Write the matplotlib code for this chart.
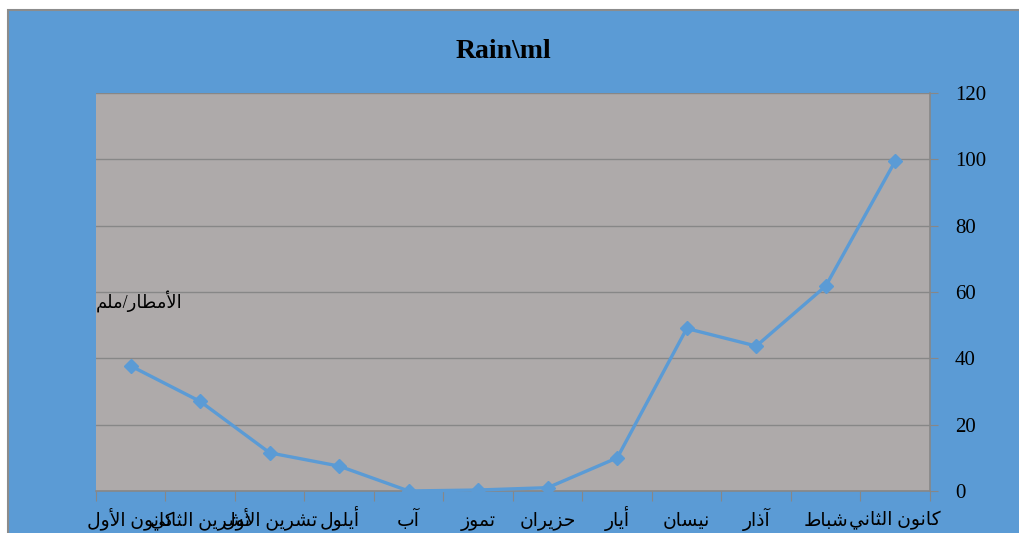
import matplotlib
matplotlib.use("Agg")
import matplotlib.pyplot as plt
from matplotlib.patches import Rectangle

# ---- data (logical order: January .. December) ----
months = ['كانون الثاني', 'شباط', 'آذار', 'نيسان', 'أيار', 'حزيران',
          'تموز', 'آب', 'أيلول', 'تشرين الأول', 'تشرين الثاني', 'كانون الأول']
rain = [99.5, 61.8, 43.7, 49, 10, 1, 0.3, 0, 7.5, 11.5, 27, 37.7]
yticks = [0, 20, 40, 60, 80, 100, 120]
title = 'Rain\\ml'
ylabel = 'الأمطار/ملم'

# ---- minimal Arabic shaping (presentation forms) + visual reversal ----
FORMS = {  # iso, final, initial, medial
    'ا': (0xFE8D, 0xFE8E, None, None), 'آ': (0xFE81, 0xFE82, None, None),
    'أ': (0xFE83, 0xFE84, None, None), 'ذ': (0xFEAB, 0xFEAC, None, None),
    'ر': (0xFEAD, 0xFEAE, None, None), 'ز': (0xFEAF, 0xFEB0, None, None),
    'و': (0xFEED, 0xFEEE, None, None),
    'ب': (0xFE8F, 0xFE90, 0xFE91, 0xFE92), 'ت': (0xFE95, 0xFE96, 0xFE97, 0xFE98),
    'ث': (0xFE99, 0xFE9A, 0xFE9B, 0xFE9C), 'ح': (0xFEA1, 0xFEA2, 0xFEA3, 0xFEA4),
    'س': (0xFEB1, 0xFEB2, 0xFEB3, 0xFEB4), 'ش': (0xFEB5, 0xFEB6, 0xFEB7, 0xFEB8),
    'ط': (0xFEC1, 0xFEC2, 0xFEC3, 0xFEC4), 'ك': (0xFED9, 0xFEDA, 0xFEDB, 0xFEDC),
    'ل': (0xFEDD, 0xFEDE, 0xFEDF, 0xFEE0), 'م': (0xFEE1, 0xFEE2, 0xFEE3, 0xFEE4),
    'ن': (0xFEE5, 0xFEE6, 0xFEE7, 0xFEE8), 'ي': (0xFEF1, 0xFEF2, 0xFEF3, 0xFEF4),
}
LAMALEF = {'ا': (0xFEFB, 0xFEFC), 'أ': (0xFEF7, 0xFEF8), 'آ': (0xFEF5, 0xFEF6)}


def dual(c):
    return c in FORMS and FORMS[c][2] is not None


def shape(s):
    units = []
    i = 0
    while i < len(s):
        if s[i] == 'ل' and i + 1 < len(s) and s[i + 1] in LAMALEF:
            units.append(('LA', s[i + 1]))
            i += 2
        else:
            units.append(('C', s[i]))
            i += 1

    def joins_next(u):
        return u[0] == 'C' and dual(u[1])

    def joins_prev(u):
        return (u[0] == 'LA') or (u[1] in FORMS)

    out = []
    for k, u in enumerate(units):
        prev = units[k - 1] if k > 0 else None
        nxt = units[k + 1] if k + 1 < len(units) else None
        cp = prev is not None and joins_next(prev) and joins_prev(u)
        cn = nxt is not None and joins_next(u) and joins_prev(nxt)
        if u[0] == 'LA':
            iso, fin = LAMALEF[u[1]]
            out.append(chr(fin if cp else iso))
            continue
        c = u[1]
        if c not in FORMS:
            out.append(c)
            continue
        iso, fin, ini, med = FORMS[c]
        if cp and cn:
            out.append(chr(med))
        elif cp:
            out.append(chr(fin))
        elif cn and ini is not None:
            out.append(chr(ini))
        else:
            out.append(chr(iso))
    return ''.join(out)[::-1]


# ---- styling ----
BLUE = '#5B9BD5'
PLOT = '#AEAAAA'
GRID = '#878787'
FONT = ['Liberation Serif', 'DejaVu Sans']
plt.rcParams['font.family'] = FONT

fig = plt.figure(figsize=(10.2, 5.33), dpi=100, facecolor='white')
W, H = 1020, 533
fig.patches.append(Rectangle((8 / W, -0.05), 1.1, 1.05 - 10 / H, transform=fig.transFigure,
                             facecolor=BLUE, edgecolor='#8C8C8C', linewidth=1.5,
                             zorder=-10))

ax = fig.add_axes([96 / W, (H - 491) / H, (930 - 96) / W, (491 - 93) / H])
ax.set_facecolor(PLOT)

x = list(range(len(months)))
ax.plot(x, rain, color=BLUE, linewidth=2.4, marker='D', markersize=7,
        zorder=3, clip_on=False)

ax.set_xlim(len(months) - 0.5, -0.5)  # reversed: January on the right
ax.set_ylim(0, 120)
ax.set_yticks(yticks)
ax.yaxis.tick_right()
ax.tick_params(axis='y', which='major', length=6, color=GRID, labelsize=15,
               pad=12, labelcolor='black')
for lab in ax.get_yticklabels():
    lab.set_horizontalalignment('left')

ax.set_xticks([i + 0.5 for i in range(-1, len(months))])
ax.set_xticklabels([])
ax.set_xticks(x, minor=True)
ax.set_xticklabels([shape(m) for m in months], minor=True, fontsize=13.5)
ax.tick_params(axis='x', which='minor', length=0, pad=25)
ax.tick_params(axis='x', which='major', length=7, color=GRID)
for lab in ax.get_xticklabels(minor=True):
    lab.set_verticalalignment('baseline')

ax.grid(axis='y', color=GRID, linewidth=1)
ax.set_axisbelow(True)
for s in ['top', 'left']:
    ax.spines[s].set_visible(False)
for s in ['right', 'bottom']:
    ax.spines[s].set_color(GRID)
    ax.spines[s].set_linewidth(1.2)

ax.text(0.0, 0.475, shape(ylabel), transform=ax.transAxes, fontsize=13,
        ha='left', va='center')

fig.text(503 / W, 1 - 52 / H, title, ha='center', va='center', fontsize=20,
         fontweight='bold', family='Liberation Serif')

fig.savefig('out.png', dpi=100, facecolor=fig.get_facecolor())
